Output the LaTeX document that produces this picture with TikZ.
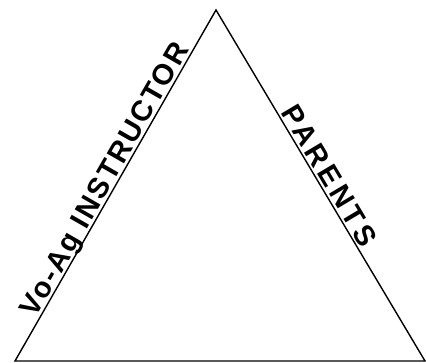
\documentclass[tikz,border=0pt]{standalone}
\usepackage{fontspec}
\newfontfamily\sidefont{Liberation Sans}
\begin{document}
\begin{tikzpicture}[x=1pt,y=1pt,
    side/.style={sloped,above,inner sep=3pt,text depth=0pt,font=\sidefont\bfseries\fontsize{29}{29}\selectfont}]
        \useasboundingbox (0,0) rectangle (426,362);
        \coordinate (left) at (15,1);
        \coordinate (right) at (425,1);
        \coordinate (top) at (216,352);
        \draw[line width=1.4pt] (left) -- (top) -- (right) -- cycle;
        \path (left) -- (top) node[side,midway] (instructor) {\addfontfeatures{LetterSpace=7}Vo-Ag INSTRUCTOR};
        \path (top) -- (right) node[side,pos=0.49] (parents) {\addfontfeatures{LetterSpace=13}PARENTS};
    \end{tikzpicture}
\end{document}
